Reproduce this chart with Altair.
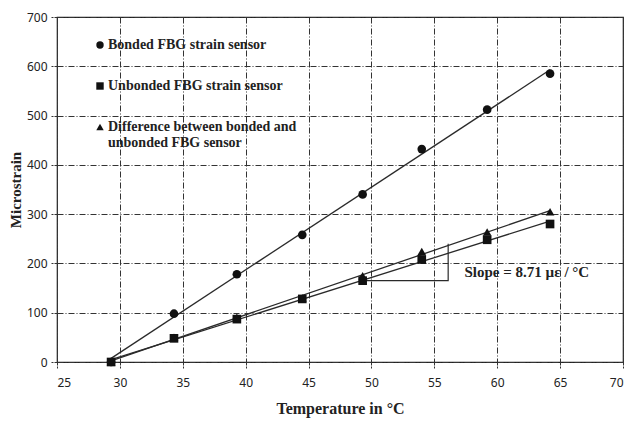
import altair as alt
import pandas as pd

temps = [29.3, 34.3, 39.3, 44.5, 49.3, 54.0, 59.2, 64.2]
bonded = [0, 98, 178, 258, 340, 432, 512, 585]
unbonded = [0, 48, 87, 128, 165, 208, 248, 280]
difference = [0, 50, 91, 130, 175, 224, 264, 305]

series_names = [
    "Bonded FBG strain sensor",
    "Unbonded FBG strain sensor",
    "Difference between bonded and unbonded FBG sensor",
]
shapes = ["circle", "square", "triangle-up"]

slope_x = [49.3, 56.1, 56.1]
slope_y = [165, 165, 240]
slope_label = "Slope = 8.71 \u00b5\u03b5 / \u00b0C"
slope_label_x = [57.4]
slope_label_y = [182]

rows = []
for name, vals in zip(series_names, [bonded, unbonded, difference]):
    for t, v in zip(temps, vals):
        rows.append({"Temperature": t, "Microstrain": v, "Series": name})
df = pd.DataFrame(rows)

slope_df = pd.DataFrame({"x": slope_x, "y": slope_y, "order": [0, 1, 2]})
label_df = pd.DataFrame({"x": slope_label_x, "y": slope_label_y, "t": [slope_label]})

serif = "Liberation Serif"
sans = "Noto Sans"

x_scale = alt.Scale(domain=[25, 70], nice=False, zero=False)
y_scale = alt.Scale(domain=[0, 700], nice=False)

x_enc = alt.X(
    "Temperature:Q",
    scale=x_scale,
    axis=alt.Axis(
        title="Temperature in \u00b0C",
        values=list(range(25, 71, 5)),
        format="d",
        titleFontSize=16,
    ),
)
y_enc = alt.Y(
    "Microstrain:Q",
    scale=y_scale,
    axis=alt.Axis(
        title="Microstrain",
        values=list(range(0, 701, 100)),
        format="d",
        titleFontSize=15,
    ),
)

trend = (
    alt.Chart(df)
    .transform_regression("Temperature", "Microstrain", groupby=["Series"])
    .mark_line(color="#2a2a2a", strokeWidth=1.3)
    .encode(
        x=alt.X("Temperature:Q", scale=x_scale),
        y=alt.Y("Microstrain:Q", scale=y_scale),
        detail="Series:N",
    )
)

points = (
    alt.Chart(df)
    .mark_point(filled=True, opacity=1, color="#111111", size=75)
    .encode(
        x=x_enc,
        y=y_enc,
        shape=alt.Shape(
            "Series:N",
            scale=alt.Scale(domain=series_names, range=shapes),
            sort=series_names,
            legend=alt.Legend(
                title=None,
                orient="none",
                legendX=36,
                legendY=21,
                labelFont=serif,
                labelFontSize=14,
                labelFontWeight="bold",
                labelColor="#222222",
                labelLimit=400,
                symbolFillColor="#111111",
                symbolStrokeColor="#111111",
                symbolSize=55,
                rowPadding=27,
                labelOffset=1,
                labelExpr="datum.label == 'Difference between bonded and unbonded FBG sensor' ? ['Difference between bonded and', 'unbonded FBG sensor'] : datum.label",
            ),
        ),
        order=alt.Order("Series:N", sort="descending"),
    )
)

slope_line = (
    alt.Chart(slope_df)
    .mark_line(color="#2a2a2a", strokeWidth=1.2)
    .encode(
        x=alt.X("x:Q", scale=x_scale),
        y=alt.Y("y:Q", scale=y_scale),
        order="order:Q",
    )
)

slope_text = (
    alt.Chart(label_df)
    .mark_text(
        align="left",
        baseline="middle",
        font=serif,
        fontSize=15,
        fontWeight="bold",
        color="#222222",
    )
    .encode(
        x=alt.X("x:Q", scale=x_scale),
        y=alt.Y("y:Q", scale=y_scale),
        text="t:N",
    )
)

chart = (
    alt.layer(trend, slope_line, points, slope_text)
    .properties(
        width=566,
        height=345,
        autosize=alt.AutoSizeParams(type="none"),
        padding={"left": 49, "top": 9, "right": 2, "bottom": 58},
    )
    .configure_view(stroke="#222222", strokeWidth=1.2)
    .configure_axis(
        grid=True,
        gridColor="#333333",
        gridDash=[6, 2, 1, 2],
        gridWidth=1,
        domain=False,
        tickColor="#333333",
        tickDash=[3, 1],
        tickSize=6,
        labelFont=sans,
        labelFontSize=12,
        labelColor="#222222",
        titleFont=serif,
        titleFontWeight="bold",
        titleColor="#222222",
    )
    .configure_axisX(labelPadding=9, titlePadding=12)
    .configure_axisY(labelPadding=4, titlePadding=3)
)

chart.save("out.html", embed_options={"renderer": "svg", "actions": False})
